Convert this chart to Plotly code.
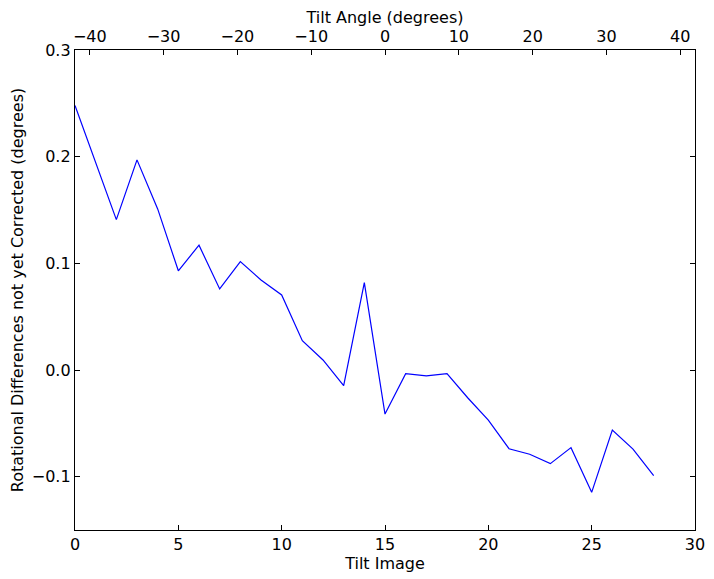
import plotly.graph_objects as go

tilt_image = list(range(29))
rot_diff = [0.248, 0.195, 0.141, 0.197, 0.151, 0.093, 0.117, 0.076, 0.1016, 0.0844,
            0.0703, 0.0275, 0.0094, -0.0147, 0.0819, -0.0413, -0.0034, -0.0056, -0.0034, -0.026,
            -0.0469, -0.0738, -0.079, -0.0878, -0.0728, -0.1147, -0.0563, -0.0741, -0.0991]

angle_range = [-42, 42]
x_ticks = [0, 5, 10, 15, 20, 25, 30]
angle_ticks = [-40, -30, -20, -10, 0, 10, 20, 30, 40]
y_ticks = [-0.1, 0.0, 0.1, 0.2, 0.3]
y_ticklabels = ["\u22120.1", "0.0", "0.1", "0.2", "0.3"]
angle_ticklabels = ["\u221240", "\u221230", "\u221220", "\u221210", "0", "10", "20", "30", "40"]

font = dict(family="DejaVu Sans", size=16, color="black")

fig = go.Figure()
fig.add_trace(go.Scatter(x=tilt_image, y=rot_diff, mode="lines",
                         line=dict(color="#0000ff", width=1.2), showlegend=False))
# invisible trace so the top (tilt angle) axis is drawn
fig.add_trace(go.Scatter(x=angle_range, y=[None, None], xaxis="x2", yaxis="y",
                         mode="lines", showlegend=False, hoverinfo="skip"))

axis_common = dict(showline=True, linecolor="black", linewidth=1.3, ticks="inside",
                   ticklen=5, tickcolor="black", showgrid=False, zeroline=False,
                   tickfont=font, automargin=False)

# page has an 8px body margin, so the figure is sized to fit the 714x579 window
fig.update_layout(
    width=706, height=571,
    margin=dict(l=67, r=19, t=42, b=49),
    plot_bgcolor="white", paper_bgcolor="white",
    font=font,
    xaxis=dict(range=[0, 30], tickvals=x_ticks, mirror=False,
               title=dict(text="Tilt Image", font=font, standoff=2), **axis_common),
    xaxis2=dict(range=angle_range, tickvals=angle_ticks, ticktext=angle_ticklabels,
                overlaying="x", side="top", anchor="y",
                title=dict(text="Tilt Angle (degrees)", font=font, standoff=6), **axis_common),
    yaxis=dict(range=[-0.15, 0.3], tickvals=y_ticks, ticktext=y_ticklabels, mirror="ticks",
               title=dict(text="Rotational Differences not yet Corrected (degrees)", font=font, standoff=6),
               **axis_common),
)

fig.write_html("out.html")
